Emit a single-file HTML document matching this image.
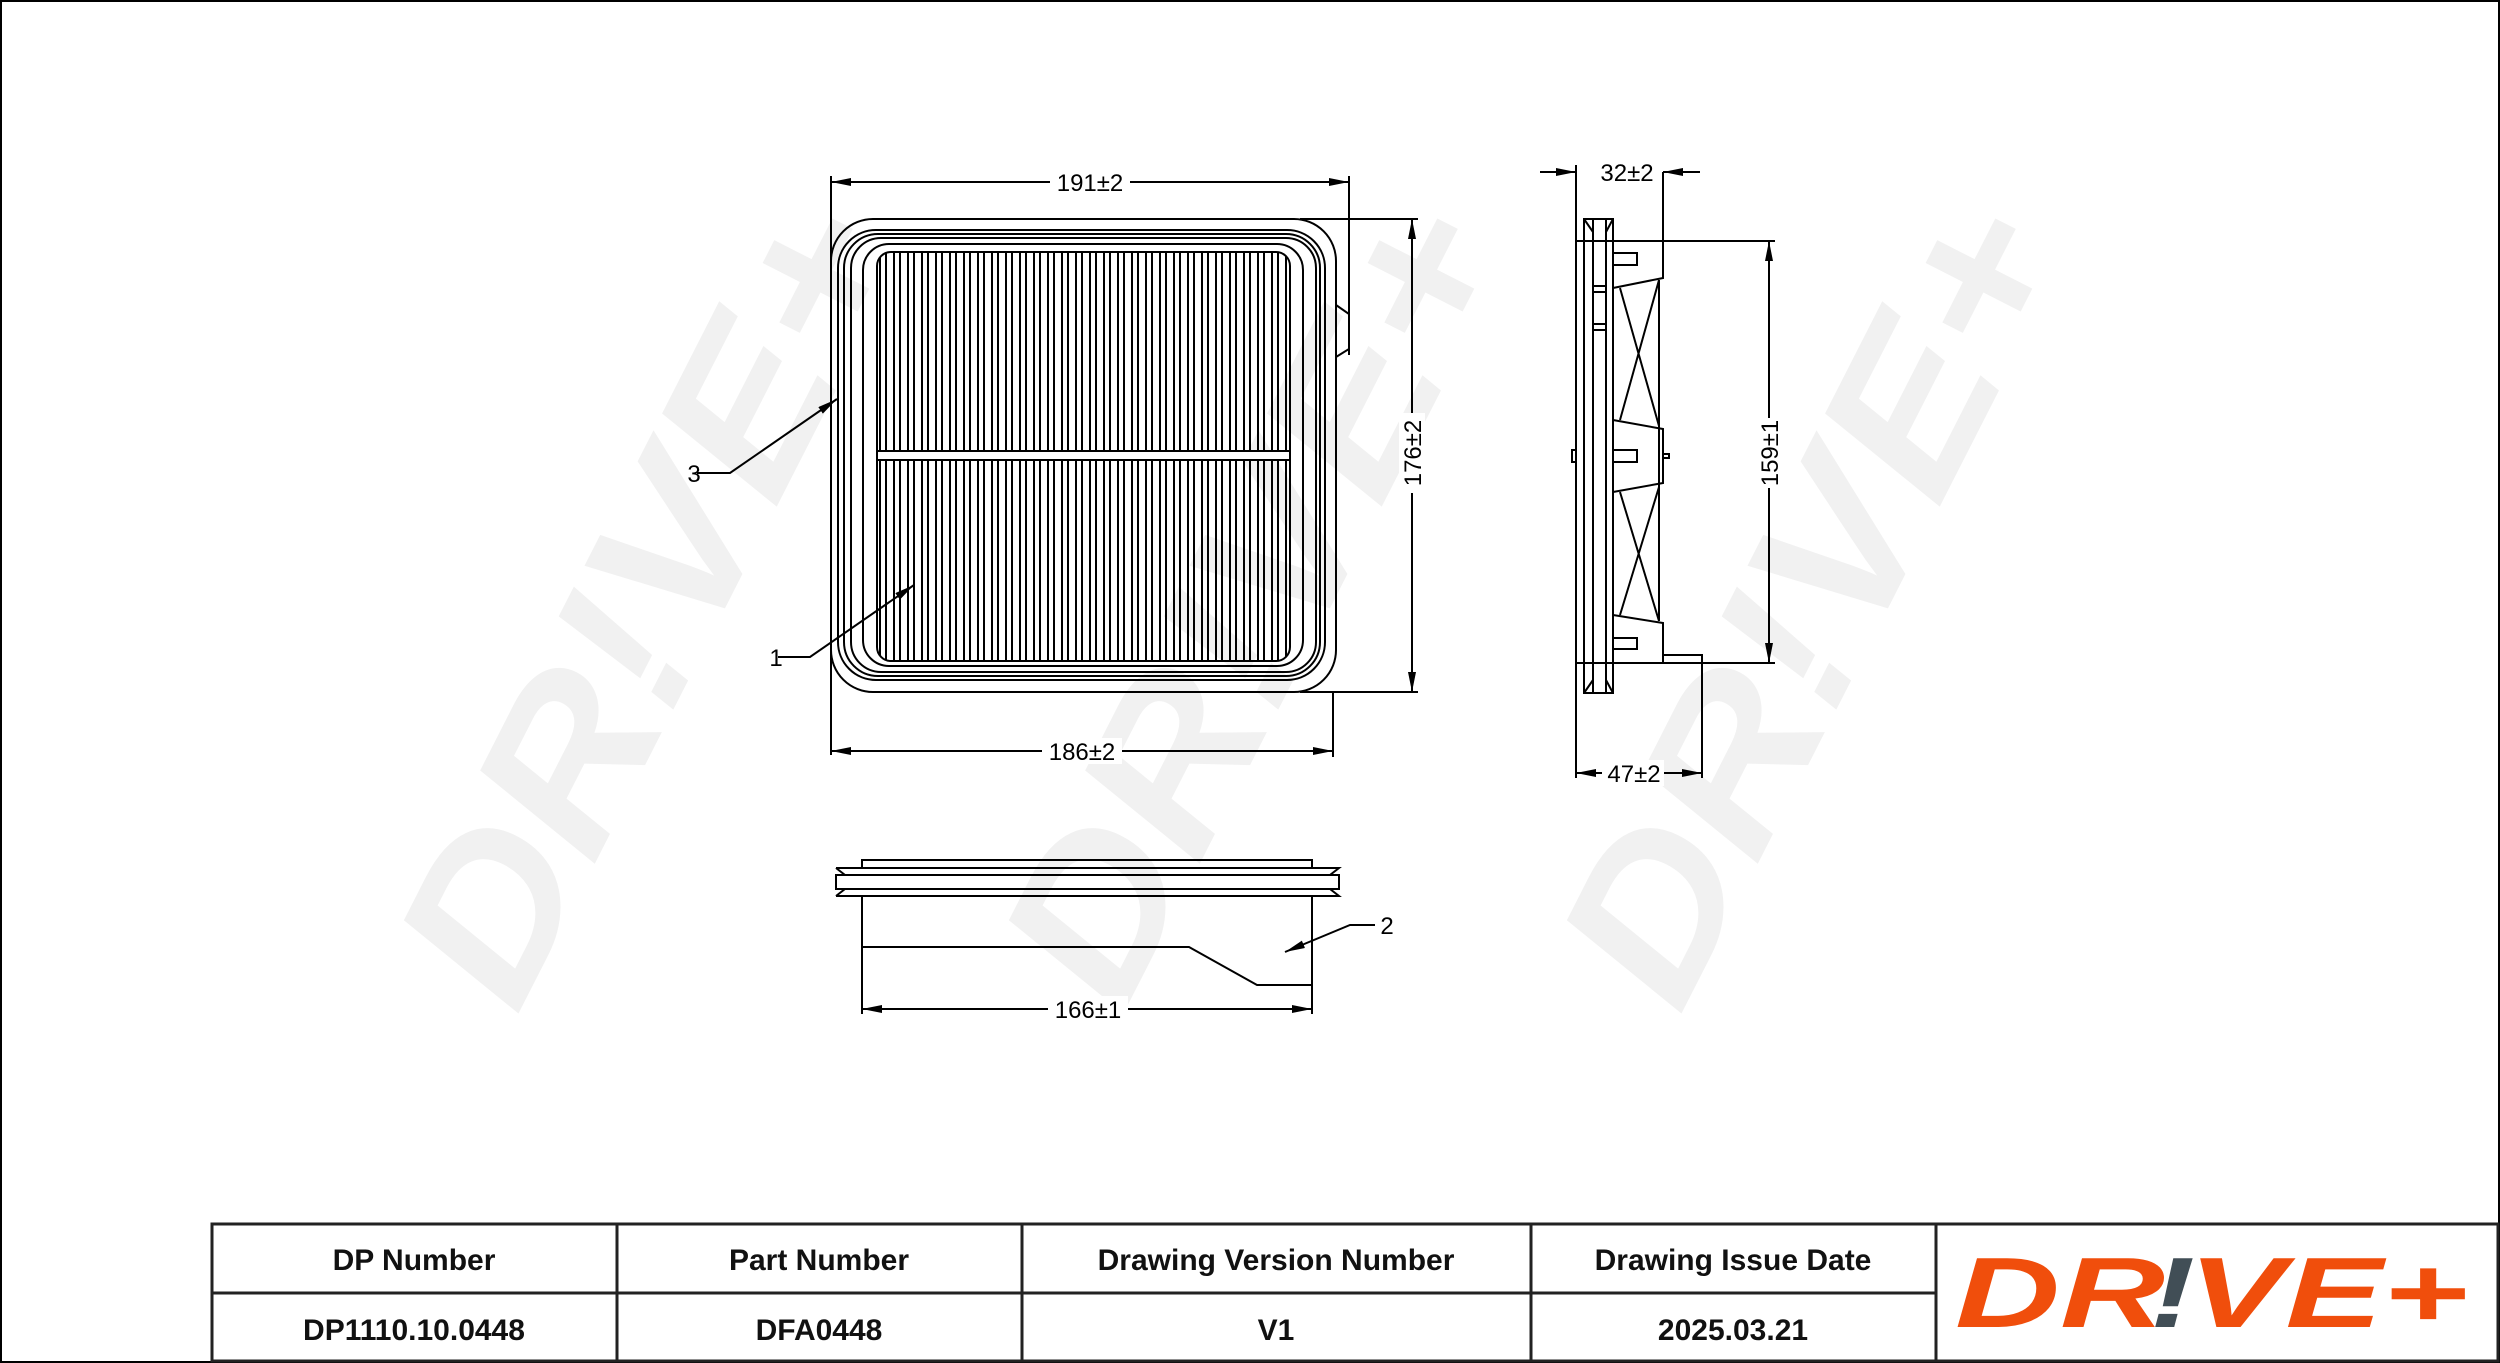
<!DOCTYPE html>
<html><head><meta charset="utf-8"><style>
html,body{margin:0;padding:0;background:#fff;}
svg{display:block;}
text{font-family:"Liberation Sans",sans-serif;}
</style></head><body>
<svg width="2500" height="1363" viewBox="0 0 2500 1363" xmlns="http://www.w3.org/2000/svg">
<defs>
<marker id="a" viewBox="0 0 20 8" refX="20" refY="4" markerWidth="20" markerHeight="8" markerUnits="userSpaceOnUse" orient="auto-start-reverse"><path d="M0,0 L20,4 L0,8 z" fill="#000"/></marker>
<pattern id="pl" x="877" y="0" width="14" height="10" patternUnits="userSpaceOnUse"><rect x="2" width="2" height="10" fill="#000"/><rect x="8" width="2" height="10" fill="#000"/></pattern>
</defs>
<rect x="1" y="1" width="2498" height="1361" fill="#fff" stroke="#000" stroke-width="2"/>
<!-- watermark -->
<g fill="#f1f1f1" font-weight="bold" font-style="italic" font-size="210">
<text x="0" y="75" transform="translate(645,600) rotate(-63)" text-anchor="middle" textLength="860" lengthAdjust="spacingAndGlyphs">DR!VE+</text>
<text x="0" y="75" transform="translate(1250,600) rotate(-63)" text-anchor="middle" textLength="860" lengthAdjust="spacingAndGlyphs">DR!VE+</text>
<text x="0" y="75" transform="translate(1808,600) rotate(-63)" text-anchor="middle" textLength="860" lengthAdjust="spacingAndGlyphs">DR!VE+</text>
</g>
<g fill="none" stroke="#000" stroke-width="2">
<!-- front view -->
<rect x="831" y="219" width="505" height="473" rx="42"/>
<rect x="838" y="230" width="487" height="450" rx="38"/>
<rect x="844" y="234" width="476" height="442" rx="34"/>
<rect x="851" y="238" width="465" height="434" rx="30"/>
<rect x="863" y="244" width="440" height="422" rx="26"/>
<rect x="877" y="252" width="413" height="409" rx="14" fill="url(#pl)"/>
<rect x="877" y="451" width="413" height="9" fill="#fff"/>
<path d="M1336,305 L1349,314 L1349,349 L1336,357"/>
<!-- dims -->
<path d="M831,182 H1349" marker-start="url(#a)" marker-end="url(#a)"/>
<path d="M831,176 V755 M1349,176 V355"/>
<path d="M831,751 H1333" marker-start="url(#a)" marker-end="url(#a)"/>
<path d="M1333,692 V757"/>
<path d="M1300,219 H1418 M1300,692 H1418"/>
<path d="M1412,219 V692" marker-start="url(#a)" marker-end="url(#a)"/>
<path d="M697,473 H730 L837,399" marker-end="url(#a)"/>
<path d="M778,657 H810 L914,585" marker-end="url(#a)"/>
<!-- bottom view -->
<rect x="862" y="860" width="450" height="8"/>
<path d="M836,868 H1339 L1330,875 L1339,875 M836,868 L845,875 L836,875"/>
<rect x="836" y="875" width="503" height="14"/>
<path d="M836,896 H1339 L1330,889 M836,896 L845,889"/>
<path d="M862,896 V1014 M1312,896 V1014"/>
<path d="M862,947 H1189 L1257,985 H1312"/>
<path d="M862,1009 H1312" marker-start="url(#a)" marker-end="url(#a)"/>
<path d="M1375,925 H1350 L1285,952" marker-end="url(#a)"/>
<!-- side view -->
<rect x="1584" y="219" width="29" height="474"/>
<rect x="1593" y="219" width="13" height="474"/>
<path d="M1584,219 L1593,232 M1613,219 L1606,232 M1584,693 L1593,680 M1613,693 L1606,680"/>
<path d="M1593,286 H1606 M1593,292 H1606 M1593,324 H1606 M1593,330 H1606"/>
<path d="M1576,241 H1775 M1576,663 H1613"/>
<path d="M1613,663 H1663 V655 H1702 V778 M1663,655 V623 L1613,615"/>
<path d="M1663,172 V278 L1613,288"/>
<path d="M1659,280 V621"/>
<path d="M1613,420 L1663,429 V483 L1613,492"/>
<path d="M1620,288 L1659,426 M1659,280 L1620,420 M1620,492 L1659,621 M1659,487 L1620,615"/>
<rect x="1613" y="253" width="24" height="12"/>
<rect x="1613" y="450" width="24" height="12"/>
<rect x="1613" y="638" width="24" height="11"/>
<rect x="1572" y="450" width="4" height="12"/>
<rect x="1663" y="454" width="6" height="4"/>
<path d="M1663,663 H1775"/>
<path d="M1769,241 V663" marker-start="url(#a)" marker-end="url(#a)"/>
<path d="M1576,165 V778"/>
<path d="M1540,172 H1576" marker-end="url(#a)"/>
<path d="M1700,172 H1663" marker-end="url(#a)"/>
<path d="M1576,773 H1702" marker-start="url(#a)" marker-end="url(#a)"/>
</g>
<!-- dim labels -->
<g font-size="24" fill="#000" text-anchor="middle">
<rect x="1050" y="168" width="80" height="26" fill="#fff"/><text x="1090" y="191">191±2</text>
<rect x="1042" y="738" width="80" height="26" fill="#fff"/><text x="1082" y="760">186±2</text>
<rect x="1048" y="996" width="80" height="26" fill="#fff"/><text x="1088" y="1018">166±1</text>
<rect x="1596" y="160" width="62" height="26" fill="#fff"/><text x="1627" y="181">32±2</text>
<rect x="1602" y="760" width="62" height="26" fill="#fff"/><text x="1634" y="782">47±2</text>
<rect x="1399" y="413" width="26" height="80" fill="#fff"/><text transform="translate(1421,453) rotate(-90)">176±2</text>
<rect x="1756" y="418" width="26" height="70" fill="#fff"/><text transform="translate(1778,453) rotate(-90)">159±1</text>
<text x="694" y="482">3</text>
<text x="776" y="666">1</text>
<text x="1387" y="934">2</text>
</g>
<!-- table -->
<g fill="none" stroke="#222" stroke-width="3">
<rect x="212" y="1224" width="2286" height="137"/>
<path d="M212,1293 H1936 M617,1224 V1361 M1022,1224 V1361 M1531,1224 V1361 M1936,1224 V1361"/>
</g>
<g font-size="30" font-weight="bold" fill="#111" text-anchor="middle">
<text x="414" y="1270">DP Number</text>
<text x="819" y="1270">Part Number</text>
<text x="1276" y="1270">Drawing Version Number</text>
<text x="1733" y="1270">Drawing Issue Date</text>
<text x="414" y="1340">DP1110.10.0448</text>
<text x="819" y="1340">DFA0448</text>
<text x="1276" y="1340">V1</text>
<text x="1733" y="1340">2025.03.21</text>
</g>
<g font-size="100" font-weight="bold" font-style="italic">
<text x="1955" y="1327" fill="#f04e0c" textLength="210" lengthAdjust="spacingAndGlyphs">DR</text>
<text x="2150" y="1327" fill="#414e56" textLength="45" lengthAdjust="spacingAndGlyphs">!</text>
<text x="2188" y="1327" fill="#f04e0c" textLength="280" lengthAdjust="spacingAndGlyphs">VE+</text>
</g>
</svg>
</body></html>
